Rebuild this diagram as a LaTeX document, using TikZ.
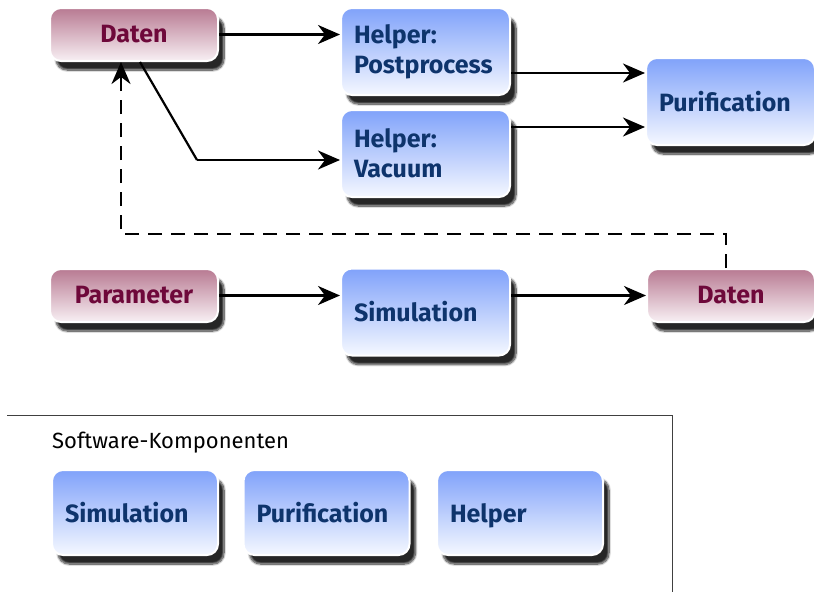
\documentclass[tikz,border=0pt]{standalone}
\usepackage{fontspec}
\setmainfont{Fira Sans}
\usetikzlibrary{arrows.meta,shadows.blur}
\definecolor{bluetop}{RGB}{128,162,250}
\definecolor{bluebot}{RGB}{245,248,255}
\definecolor{magtop}{RGB}{184,122,146}
\definecolor{magbot}{RGB}{248,240,244}
\definecolor{bluetext}{RGB}{14,52,108}
\definecolor{magtext}{RGB}{110,8,58}
\begin{document}
\begin{tikzpicture}[x=1pt,y=-1pt,
 base/.style={draw=white, line width=2pt, rounded corners=11pt, font=\fontsize{25}{30}\selectfont\bfseries,
   blur shadow={shadow xshift=6pt, shadow yshift=-9pt, shadow blur steps=10, shadow opacity=85}},
 bluebox/.style={base, top color=bluetop, bottom color=bluebot, text=bluetext, minimum width=169pt, minimum height=87pt, text width=143pt, align=left, inner xsep=13pt},
 magbox/.style={base, top color=magtop, bottom color=magbot, text=magtext, minimum width=168pt, minimum height=53pt, align=center},
 legbox/.style={bluebox, minimum width=166pt, minimum height=85pt, text width=140pt, text height=25pt, text depth=6pt},
 conn/.style={line width=2.2pt, -{Stealth[length=22pt,width=19pt,inset=7pt]}},
]
\useasboundingbox (0,0) rectangle (814,592);
\node[magbox] (d1) at (134,34.5) {Daten};
\node[bluebox] (hp) at (425.5,51.5) {Helper:\\Postprocess};
\node[bluebox] (hv) at (425.5,153.5) {Helper:\\Vacuum};
\node[bluebox] (pu) at (730.5,101.5) {Purification};
\node[magbox] (pa) at (134,295.5) {Parameter};
\node[bluebox] (si) at (425.5,312) {Simulation};
\node[magbox] (d2) at (731,295.5) {Daten};

\coordinate (bend) at (197,160);
\coordinate (ya) at (0,73);
\coordinate (yb) at (0,127);
\coordinate (c1) at (726,234);
\coordinate (c2) at (121,234);

\draw[conn] (d1.east) -- (hp.west |- d1.east);
\draw[line width=2.2pt] ([xshift=6pt]d1.south) -- (bend);
\draw[conn] (bend) -- (hv.west |- bend);
\draw[conn] (hp.east |- ya) -- (pu.west |- ya);
\draw[conn] (hv.east |- yb) -- (pu.west |- yb);
\draw[conn] (pa.east) -- (si.west |- pa.east);
\draw[conn] (si.east |- pa.east) -- (d2.west);
\draw[conn, dash pattern=on 14pt off 9pt] (d2.north -| c1) -- (c1) -- (c2) -- (d1.south -| c2);

\draw[line width=0.8pt, black!75] (7,415) -- (672,415) -- (672,592);
\node[anchor=west, inner sep=0pt, font=\fontsize{22}{26}\selectfont] (lt) at (52,443) {Software-Komponenten};
\node[legbox] (ls) at (135,512.5) {Simulation};
\node[legbox] (lp) at (326.5,512.5) {Purification};
\node[legbox] (lh) at (520,512.5) {Helper};
\end{tikzpicture}
\end{document}
